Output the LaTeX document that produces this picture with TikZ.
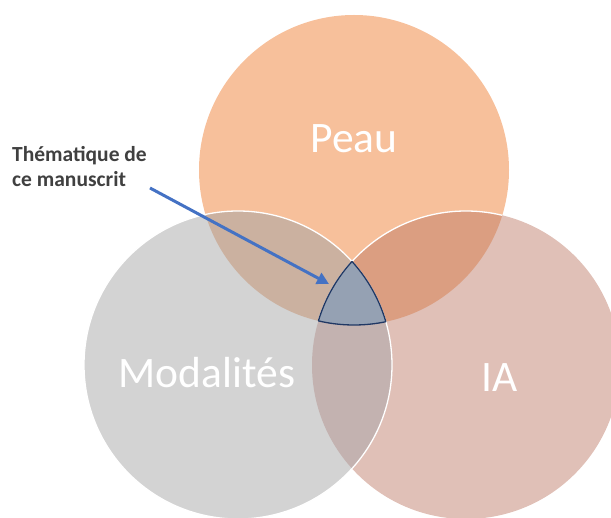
\documentclass[tikz,border=0pt]{standalone}
\usepackage{fontspec}
\setmainfont{Carlito}
\usetikzlibrary{arrows.meta}
\definecolor{peaucol}{RGB}{247,192,155}
\definecolor{modcol}{RGB}{211,211,211}
\definecolor{iacol}{RGB}{224,192,183}
\definecolor{pmcol}{RGB}{203,177,160}
\definecolor{picol}{RGB}{219,158,129}
\definecolor{micol}{RGB}{195,178,176}
\definecolor{tricol}{RGB}{149,161,179}
\definecolor{trinavy}{RGB}{32,56,100}
\definecolor{arrowblue}{RGB}{68,114,196}
\definecolor{labelgray}{RGB}{64,64,64}
\tikzset{
  bigtext/.style={text=white,font=\fontsize{43.5}{50}\selectfont,inner sep=0pt,anchor=base},
  labeltext/.style={text=labelgray,font=\bfseries\fontsize{21.5}{25}\selectfont,align=left,inner sep=0pt,anchor=north west},
  pointer/.style={draw=arrowblue,line width=3pt,-{Triangle[length=12pt,width=12pt]}},
}
\def\peaucirc{(354,170) circle [radius=155pt]}
\def\modcirc{(238,365) circle [radius=154pt]}
\def\iacirc{(466,365) circle [radius=154pt]}
\begin{document}
\begin{tikzpicture}[x=1pt,y=-1pt]
\useasboundingbox (0,0) rectangle (611,518);
\clip (0,0) rectangle (611,518);
% base circles
\fill[peaucol] \peaucirc;
\fill[iacol] \iacirc;
\fill[modcol] \modcirc;
% pairwise overlaps
\begin{scope}\clip \peaucirc; \fill[pmcol] \modcirc; \end{scope}
\begin{scope}\clip \peaucirc; \fill[picol] \iacirc; \end{scope}
\begin{scope}\clip \modcirc; \fill[micol] \iacirc; \end{scope}
% white borders
\begin{scope}\clip \peaucirc; \draw[white,line width=1.3pt] \iacirc; \end{scope}
\draw[white,line width=1.3pt] \modcirc;
% central triangle
\begin{scope}\clip \peaucirc; \clip \modcirc; \fill[tricol] \iacirc; \end{scope}
\begin{scope}\clip \peaucirc; \clip \modcirc; \draw[trinavy,line width=1.3pt] \iacirc; \end{scope}
\begin{scope}\clip \peaucirc; \clip \iacirc; \draw[trinavy,line width=1.3pt] \modcirc; \end{scope}
\begin{scope}\clip \modcirc; \clip \iacirc; \draw[trinavy,line width=1.3pt] \peaucirc; \end{scope}
% texts
\node[bigtext] (peau) at (354,153) {Peau};
\node[bigtext] (modalites) at (207,388) {Modalités};
\node[bigtext] (ia) at (500,392) {IA};
\node[labeltext] (theme) at (12,146) {Thématique de\\ce manuscrit};
\coordinate (arrstart) at (150,188);
\coordinate (arrend) at (329,284);
\draw[pointer] (arrstart) -- (arrend);
\end{tikzpicture}
\end{document}
